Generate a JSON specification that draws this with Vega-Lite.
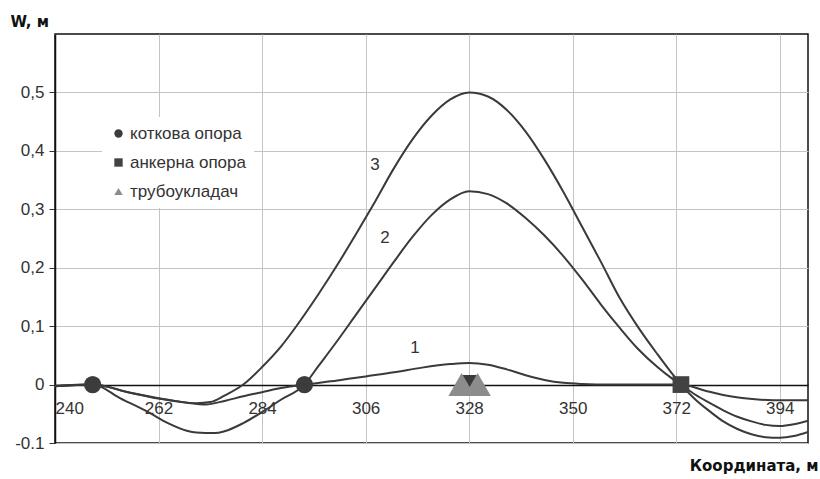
{
  "$schema": "https://vega.github.io/schema/vega-lite/v6.json",
  "width": 753,
  "height": 409,
  "autosize": {"type": "none"},
  "padding": {"left": 55, "top": 34, "right": 12, "bottom": 36},
  "background": "white",
  "config": {
    "view": {"stroke": "#111111", "strokeWidth": 1.5},
    "font": "Liberation Sans"
  },
  "datasets": {
    "curves": [
      {"curve": "1", "x": 240, "w": -0.002}, {"curve": "1", "x": 248, "w": 0}, {"curve": "1", "x": 256, "w": -0.014},
      {"curve": "1", "x": 262, "w": -0.024}, {"curve": "1", "x": 268, "w": -0.031}, {"curve": "1", "x": 272, "w": -0.034},
      {"curve": "1", "x": 276, "w": -0.028}, {"curve": "1", "x": 280, "w": -0.02}, {"curve": "1", "x": 284, "w": -0.013},
      {"curve": "1", "x": 288, "w": -0.006}, {"curve": "1", "x": 293, "w": 0}, {"curve": "1", "x": 300, "w": 0.007},
      {"curve": "1", "x": 306, "w": 0.014}, {"curve": "1", "x": 312, "w": 0.021}, {"curve": "1", "x": 318, "w": 0.029},
      {"curve": "1", "x": 324, "w": 0.035}, {"curve": "1", "x": 328, "w": 0.037}, {"curve": "1", "x": 332, "w": 0.034},
      {"curve": "1", "x": 336, "w": 0.026}, {"curve": "1", "x": 340, "w": 0.016}, {"curve": "1", "x": 344, "w": 0.008},
      {"curve": "1", "x": 348, "w": 0.003}, {"curve": "1", "x": 352, "w": 0.001}, {"curve": "1", "x": 358, "w": 0},
      {"curve": "1", "x": 364, "w": 0}, {"curve": "1", "x": 369, "w": 0}, {"curve": "1", "x": 373, "w": 0},
      {"curve": "1", "x": 378, "w": -0.01}, {"curve": "1", "x": 382, "w": -0.018}, {"curve": "1", "x": 386, "w": -0.023},
      {"curve": "1", "x": 390, "w": -0.026}, {"curve": "1", "x": 395, "w": -0.027}, {"curve": "1", "x": 400, "w": -0.027},

      {"curve": "2", "x": 240, "w": -0.003}, {"curve": "2", "x": 248, "w": 0}, {"curve": "2", "x": 254, "w": -0.024},
      {"curve": "2", "x": 260, "w": -0.048}, {"curve": "2", "x": 264, "w": -0.066}, {"curve": "2", "x": 268, "w": -0.079},
      {"curve": "2", "x": 270, "w": -0.082}, {"curve": "2", "x": 274, "w": -0.083}, {"curve": "2", "x": 276, "w": -0.08},
      {"curve": "2", "x": 280, "w": -0.066}, {"curve": "2", "x": 284, "w": -0.047}, {"curve": "2", "x": 288, "w": -0.026},
      {"curve": "2", "x": 293, "w": 0}, {"curve": "2", "x": 296, "w": 0.032}, {"curve": "2", "x": 300, "w": 0.075},
      {"curve": "2", "x": 304, "w": 0.12}, {"curve": "2", "x": 308, "w": 0.165}, {"curve": "2", "x": 312, "w": 0.21},
      {"curve": "2", "x": 316, "w": 0.253}, {"curve": "2", "x": 320, "w": 0.29}, {"curve": "2", "x": 324, "w": 0.317},
      {"curve": "2", "x": 328, "w": 0.331}, {"curve": "2", "x": 332, "w": 0.326}, {"curve": "2", "x": 336, "w": 0.31},
      {"curve": "2", "x": 340, "w": 0.285}, {"curve": "2", "x": 344, "w": 0.255}, {"curve": "2", "x": 348, "w": 0.22},
      {"curve": "2", "x": 352, "w": 0.18}, {"curve": "2", "x": 356, "w": 0.137}, {"curve": "2", "x": 360, "w": 0.097},
      {"curve": "2", "x": 364, "w": 0.06}, {"curve": "2", "x": 368, "w": 0.03}, {"curve": "2", "x": 371, "w": 0.011},
      {"curve": "2", "x": 373, "w": 0}, {"curve": "2", "x": 376, "w": -0.017}, {"curve": "2", "x": 379, "w": -0.031},
      {"curve": "2", "x": 382, "w": -0.044}, {"curve": "2", "x": 385, "w": -0.055}, {"curve": "2", "x": 388, "w": -0.063},
      {"curve": "2", "x": 391, "w": -0.069}, {"curve": "2", "x": 394, "w": -0.071}, {"curve": "2", "x": 397, "w": -0.068},
      {"curve": "2", "x": 400, "w": -0.062},

      {"curve": "3", "x": 240, "w": -0.003}, {"curve": "3", "x": 248, "w": 0}, {"curve": "3", "x": 256, "w": -0.014},
      {"curve": "3", "x": 264, "w": -0.026}, {"curve": "3", "x": 270, "w": -0.032}, {"curve": "3", "x": 273, "w": -0.03},
      {"curve": "3", "x": 276, "w": -0.019}, {"curve": "3", "x": 280, "w": 0}, {"curve": "3", "x": 284, "w": 0.03},
      {"curve": "3", "x": 288, "w": 0.065}, {"curve": "3", "x": 292, "w": 0.108}, {"curve": "3", "x": 296, "w": 0.155},
      {"curve": "3", "x": 300, "w": 0.205}, {"curve": "3", "x": 304, "w": 0.258}, {"curve": "3", "x": 308, "w": 0.313},
      {"curve": "3", "x": 312, "w": 0.37}, {"curve": "3", "x": 316, "w": 0.42}, {"curve": "3", "x": 320, "w": 0.46},
      {"curve": "3", "x": 324, "w": 0.488}, {"curve": "3", "x": 328, "w": 0.5}, {"curve": "3", "x": 332, "w": 0.493},
      {"curve": "3", "x": 336, "w": 0.47}, {"curve": "3", "x": 340, "w": 0.433}, {"curve": "3", "x": 344, "w": 0.385},
      {"curve": "3", "x": 348, "w": 0.33}, {"curve": "3", "x": 352, "w": 0.27}, {"curve": "3", "x": 356, "w": 0.21},
      {"curve": "3", "x": 360, "w": 0.148}, {"curve": "3", "x": 364, "w": 0.097}, {"curve": "3", "x": 368, "w": 0.052},
      {"curve": "3", "x": 371, "w": 0.02}, {"curve": "3", "x": 373, "w": 0}, {"curve": "3", "x": 376, "w": -0.025},
      {"curve": "3", "x": 379, "w": -0.045}, {"curve": "3", "x": 382, "w": -0.063}, {"curve": "3", "x": 385, "w": -0.076},
      {"curve": "3", "x": 388, "w": -0.085}, {"curve": "3", "x": 391, "w": -0.09}, {"curve": "3", "x": 394, "w": -0.091},
      {"curve": "3", "x": 397, "w": -0.088}, {"curve": "3", "x": 400, "w": -0.081}
    ],
    "supports": [
      {"type": "коткова опора", "x": 248, "w": 0},
      {"type": "коткова опора", "x": 293, "w": 0},
      {"type": "анкерна опора", "x": 373, "w": 0},
      {"type": "трубоукладач", "x": 326.4, "w": 0},
      {"type": "трубоукладач", "x": 329.8, "w": 0}
    ],
    "pointer": [
      {"x": 328.1, "w": 0.003}
    ],
    "labels": [
      {"label": "3", "x": 308, "w": 0.375},
      {"label": "2", "x": 310.1, "w": 0.251},
      {"label": "1", "x": 316.5, "w": 0.063}
    ]
  },
  "layer": [
    {
      "data": {"name": "curves"},
      "mark": {"type": "line", "interpolate": "monotone", "color": "#3a3a3a", "strokeWidth": 2, "clip": true},
      "encoding": {
        "x": {
          "field": "x", "type": "quantitative",
          "scale": {"domain": [240, 400], "nice": false, "zero": false},
          "axis": {
            "values": [240, 262, 284, 306, 328, 350, 372, 394],
            "grid": true, "gridColor": "#c4c4c4", "gridWidth": 1,
            "domain": false, "ticks": false, "offset": -58,
            "labelPadding": 15, "labelFontSize": 17, "labelColor": "#333333", "labelFont": "Liberation Sans",
            "title": "Координата, м", "titleFont": "DejaVu Sans", "titleFontWeight": "bold", "titleFontSize": 15,
            "titleColor": "#111111", "titleAnchor": "end", "titleAlign": "right", "titleBaseline": "middle",
            "titleX": 763, "titleY": 80
          }
        },
        "y": {
          "field": "w", "type": "quantitative",
          "scale": {"domain": [-0.1, 0.6], "nice": false, "zero": false},
          "axis": {
            "values": [-0.1, 0, 0.1, 0.2, 0.3, 0.4, 0.5],
            "grid": true,
            "gridColor": {"condition": {"test": "datum.value === 0", "value": "#111111"}, "value": "#c4c4c4"},
            "gridWidth": {"condition": {"test": "datum.value === 0", "value": 1.5}, "value": 1},
            "domain": true, "domainColor": "#111111", "domainWidth": 1.5,
            "ticks": true, "tickColor": "#333333", "tickSize": 6,
            "labelPadding": 5, "labelFontSize": 17, "labelColor": "#333333", "labelFont": "Liberation Sans",
            "labelExpr": "datum.value < 0 ? '-0.1' : replace(format(datum.value, '.1~f'), '.', ',')",
            "title": "W, м", "titleFont": "DejaVu Sans", "titleFontWeight": "bold", "titleFontSize": 15,
            "titleColor": "#111111", "titleAngle": 0, "titleAlign": "left", "titleBaseline": "middle",
            "titleX": -45, "titleY": -13
          }
        },
        "detail": {"field": "curve", "type": "nominal"}
      }
    },
    {
      "data": {"name": "pointer"},
      "mark": {"type": "point", "shape": "triangle-down", "filled": true, "opacity": 1, "color": "#3a3a3a", "size": 330},
      "encoding": {
        "x": {"field": "x", "type": "quantitative"},
        "y": {"field": "w", "type": "quantitative"}
      }
    },
    {
      "data": {"name": "supports"},
      "transform": [{"filter": "datum.type === 'трубоукладач'"}],
      "mark": {"type": "point", "filled": true, "opacity": 1, "size": 700},
      "encoding": {
        "x": {"field": "x", "type": "quantitative"},
        "y": {"field": "w", "type": "quantitative"},
        "shape": {"field": "type", "type": "nominal"},
        "color": {"field": "type", "type": "nominal"}
      }
    },
    {
      "data": {"name": "supports"},
      "transform": [{"filter": "datum.type === 'коткова опора'"}],
      "mark": {"type": "point", "filled": true, "opacity": 1, "size": 300},
      "encoding": {
        "x": {"field": "x", "type": "quantitative"},
        "y": {"field": "w", "type": "quantitative"},
        "shape": {"field": "type", "type": "nominal"},
        "color": {"field": "type", "type": "nominal"}
      }
    },
    {
      "data": {"name": "supports"},
      "transform": [{"filter": "datum.type === 'анкерна опора'"}],
      "mark": {"type": "point", "filled": true, "opacity": 1, "size": 280},
      "encoding": {
        "x": {"field": "x", "type": "quantitative"},
        "y": {"field": "w", "type": "quantitative"},
        "shape": {
          "field": "type", "type": "nominal",
          "scale": {"domain": ["коткова опора", "анкерна опора", "трубоукладач"], "range": ["circle", "square", "triangle-up"]},
          "legend": {
            "orient": "none", "legendX": 47, "legendY": 83, "title": null,
            "fillColor": "white", "padding": 8, "rowPadding": 11,
            "symbolSize": 70, "labelFontSize": 17, "labelColor": "#333333", "labelFont": "Liberation Sans",
            "labelOffset": 3, "symbolStrokeWidth": 0
          }
        },
        "color": {
          "field": "type", "type": "nominal",
          "scale": {"domain": ["коткова опора", "анкерна опора", "трубоукладач"], "range": ["#3c3c3c", "#424242", "#8c8c8c"]},
          "legend": {
            "orient": "none", "legendX": 47, "legendY": 83, "title": null,
            "fillColor": "white", "padding": 8, "rowPadding": 11,
            "symbolSize": 70, "labelFontSize": 17, "labelColor": "#333333", "labelFont": "Liberation Sans",
            "labelOffset": 3, "symbolStrokeWidth": 0
          }
        }
      }
    },
    {
      "data": {"name": "labels"},
      "mark": {"type": "text", "fontSize": 17, "font": "Liberation Sans", "color": "#333333", "align": "center", "baseline": "middle"},
      "encoding": {
        "x": {"field": "x", "type": "quantitative"},
        "y": {"field": "w", "type": "quantitative"},
        "text": {"field": "label"}
      }
    }
  ]
}
